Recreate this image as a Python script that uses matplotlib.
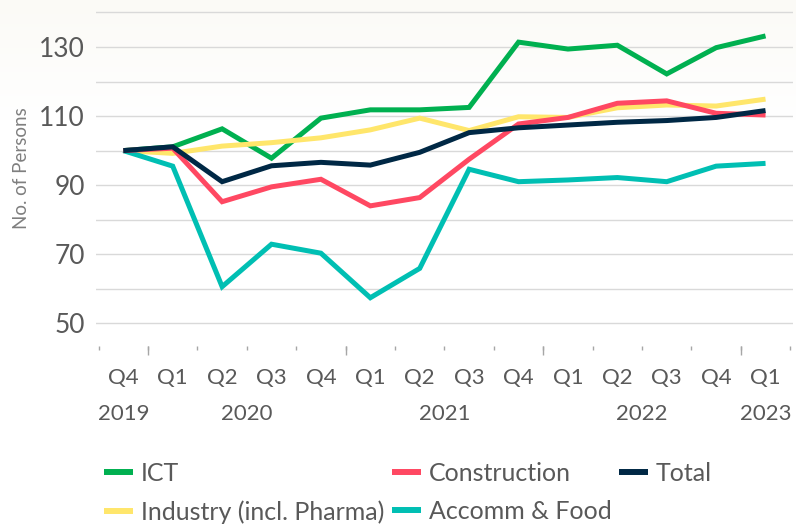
import matplotlib
matplotlib.use("Agg")
import matplotlib.pyplot as plt
import numpy as np
from matplotlib.lines import Line2D

plt.rcParams["font.family"] = ["Lato", "DejaVu Sans"]

# ── data (index, Q4 2019 = 100) ─────────────────────────────────────────────
QUARTERS = ["Q4", "Q1", "Q2", "Q3", "Q4", "Q1", "Q2", "Q3", "Q4", "Q1", "Q2", "Q3", "Q4", "Q1"]
YEARS = ["2019", "2020", "2021", "2022", "2023"]
YEAR_POS = [0, 2.5, 6.5, 10.5, 13]
YEAR_BOUNDS = [0.5, 4.5, 8.5, 12.5]

ICT = [100, 101.1, 106.3, 97.8, 109.4, 111.8, 111.8, 112.5, 131.4, 129.4, 130.5, 122.2, 129.8, 133.2]
INDUSTRY = [100, 99.2, 101.3, 102.3, 103.7, 106.0, 109.4, 105.8, 109.8, 109.6, 112.4, 113.2, 112.9, 114.9]
CONSTRUCTION = [100, 100.7, 85.2, 89.5, 91.7, 84.0, 86.4, 97.5, 107.7, 109.6, 113.7, 114.4, 110.8, 110.3]
TOTAL = [100, 101.1, 91.0, 95.6, 96.6, 95.8, 99.5, 105.2, 106.6, 107.4, 108.2, 108.7, 109.6, 111.6]
ACCOMM = [100, 95.5, 60.6, 72.9, 70.3, 57.4, 65.9, 94.6, 91.0, 91.5, 92.2, 91.0, 95.5, 96.3]

C_ICT = "#00B050"
C_IND = "#FFE66B"
C_CON = "#FF4862"
C_TOT = "#002845"
C_ACC = "#00BFB3"
C_TEXT = "#595959"
C_GRID = "#D9D9D9"
C_TICK = "#A6A6A6"

W, H = 796, 524
fig = plt.figure(figsize=(W / 100, H / 100), dpi=100)
fig.patch.set_facecolor("white")

# faint warm band at the top of the picture
bg = fig.add_axes([0, 0, 1, 1], zorder=-1)
bg.axis("off")
yy = np.linspace(0, 1, 524)[:, None]
w = np.clip(1 - yy * H / 120, 0, 1)
top = np.array([251, 250, 246]) / 255
img = (1 - w[..., None]) * 1.0 + w[..., None] * top
bg.imshow(img.repeat(2, axis=1), aspect="auto", extent=(0, 1, 0, 1))

ax = fig.add_axes([96 / W, 1 - 346 / H, (793 - 96) / W, 346 / H])
ax.set_facecolor("none")

x = np.arange(len(QUARTERS))
style = dict(lw=3.6, solid_joinstyle="miter", solid_capstyle="butt", zorder=3)
ax.plot(x, ICT, color=C_ICT, **style)
ax.plot(x, INDUSTRY, color=C_IND, **style)
ax.plot(x, ACCOMM, color=C_ACC, **style)
ax.plot(x, CONSTRUCTION, color=C_CON, **style)
ax.plot(x, TOTAL, color=C_TOT, **style)

ax.set_xlim(-0.553, 13.556)
ax.set_ylim(43.43, 143.6)

for sp in ax.spines.values():
    sp.set_visible(False)

# y axis
ax.set_yticks([50, 70, 90, 110, 130])
ax.set_yticks([60, 80, 100, 120, 140], minor=True)
ax.grid(axis="y", which="both", color=C_GRID, lw=1.0, zorder=0)
ax.tick_params(axis="y", which="both", length=0, pad=8, labelsize=19, labelcolor=C_TEXT)
ax.set_ylabel("No. of Persons", fontsize=13.5, color="#7F7F7F")
ax.yaxis.set_label_coords(-0.094, 0.515)

# x axis: quarter labels, boundary ticks
ax.set_xticks(x)
ax.set_xticklabels(QUARTERS)
ax.set_xticks(np.arange(-0.5, 14, 1.0), minor=True)
ax.tick_params(axis="x", which="major", length=0, pad=15.5, labelsize=16, labelcolor=C_TEXT)
ax.tick_params(axis="x", which="minor", length=3, width=1, color=C_TICK)

sec = ax.secondary_xaxis("bottom")
sec.set_xticks(YEAR_BOUNDS)
sec.tick_params(length=6.5, width=1, color=C_TICK, labelbottom=False)
sec.spines["bottom"].set_visible(False)

yrs = ax.secondary_xaxis("bottom")
yrs.set_xticks(YEAR_POS)
yrs.set_xticklabels(YEARS)
yrs.tick_params(length=0, pad=42, labelsize=16, labelcolor=C_TEXT)
yrs.spines["bottom"].set_visible(False)

# legend, row-wise: ICT, Construction, Total / Industry, Accomm
def handle(c, label):
    return Line2D([0], [0], color=c, lw=4.3, solid_capstyle="butt", label=label)

handles = [
    handle(C_ICT, "ICT"),
    handle(C_IND, "Industry (incl. Pharma)"),
    handle(C_CON, "Construction"),
    handle(C_ACC, "Accomm & Food"),
    handle(C_TOT, "Total"),
]
fig.legend(
    handles=handles,
    loc="upper left",
    bbox_to_anchor=(104 / W, 1 - 462 / H),
    ncol=3,
    frameon=False,
    fontsize=18,
    labelcolor=C_TEXT,
    handlelength=1.16,
    handletextpad=0.32,
    columnspacing=0.3,
    labelspacing=0.6,
    borderpad=0,
    borderaxespad=0,
)

fig.savefig("out.png", dpi=100, facecolor="white")
